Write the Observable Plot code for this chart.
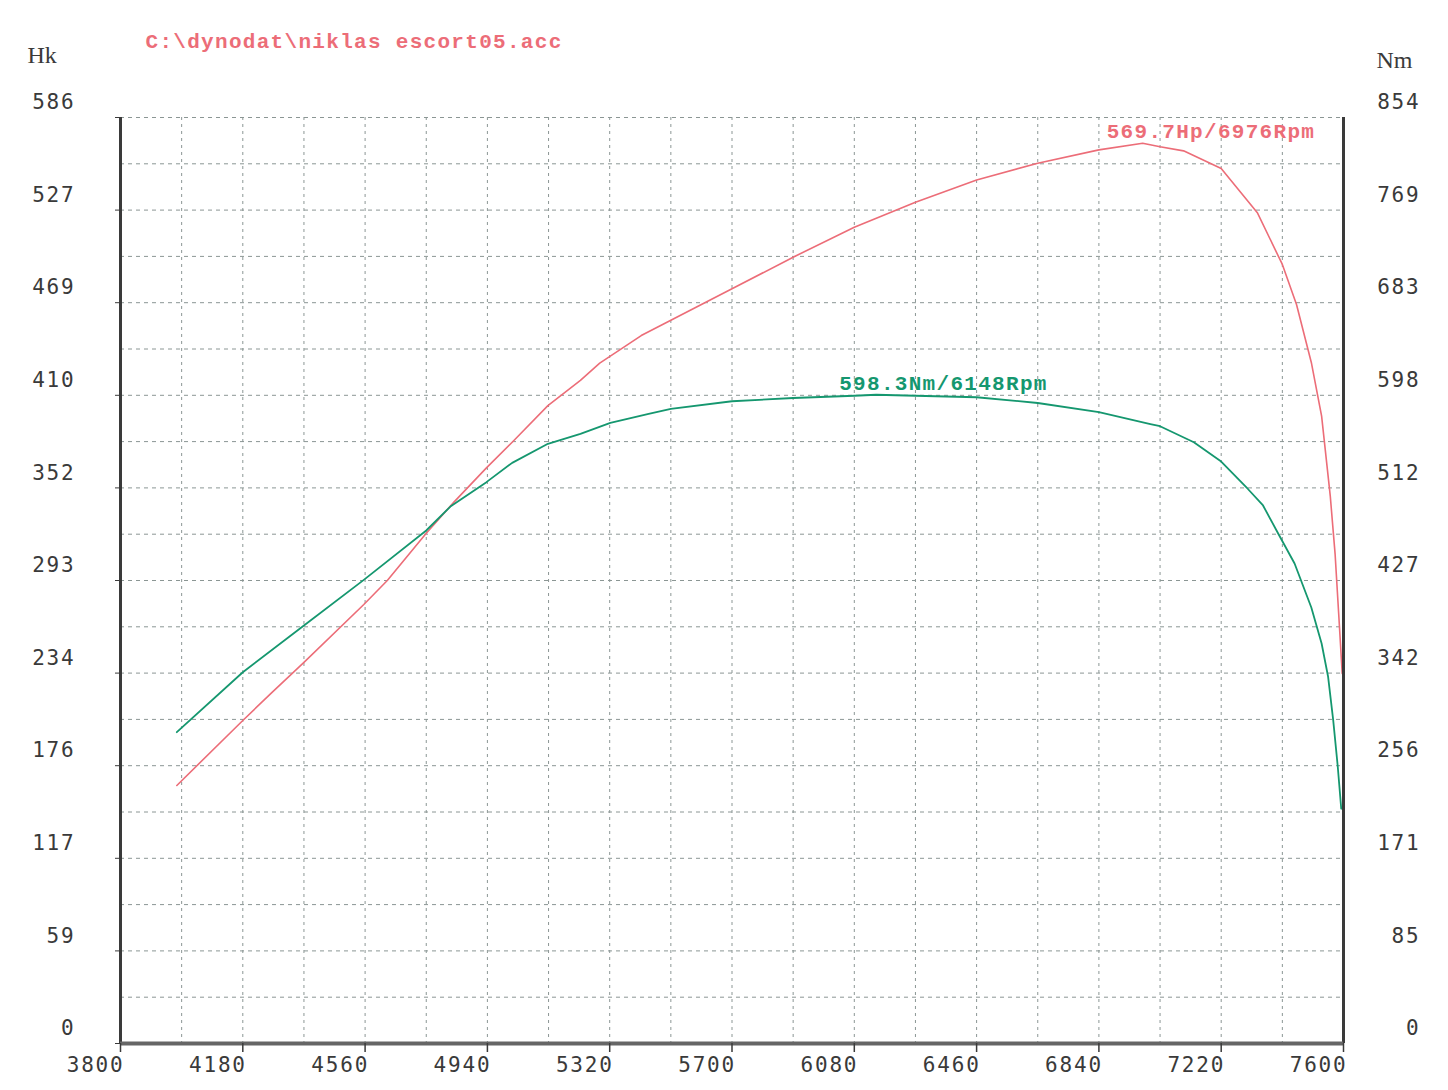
<!DOCTYPE html>
<html><head><meta charset="utf-8">
<script src="https://cdn.jsdelivr.net/npm/d3@7"></script>
<script src="https://cdn.jsdelivr.net/npm/@observablehq/plot@0.6"></script>
<style>
body{margin:0;background:#fff}
g[font-family*="DejaVu Sans Mono"] text{letter-spacing:1.8px}
g[font-family*="Liberation Mono"] text{letter-spacing:1.3px}
</style>
</head><body><div id="chart"></div>
<script>
// ---- data ----
const powerRpm = [3975, 4180, 4266, 4370, 4556, 4629, 4750, 4836, 4937, 5017, 5128, 5229, 5289, 5418, 5510, 5700, 5890, 6080, 6270, 6460, 6650, 6840, 6976, 7030, 7103, 7220, 7333, 7410, 7454, 7500, 7532, 7559, 7574, 7585, 7596];
const powerHp  = [163.3, 204.4, 221.3, 241.2, 277.8, 293.0, 322.9, 342.6, 364.3, 380.5, 403.7, 419.6, 430.6, 448.0, 457.7, 477.6, 497.6, 516.5, 532.3, 546.4, 557.1, 565.5, 569.7, 567.5, 564.9, 553.7, 525.5, 493.0, 467.7, 431.0, 397.0, 346.2, 309.5, 272.1, 234.1];
const torqueRpm = [3975, 4180, 4370, 4556, 4750, 4825, 4937, 5017, 5128, 5229, 5322, 5441, 5510, 5700, 5890, 6080, 6148, 6270, 6460, 6650, 6840, 7000, 7030, 7135, 7220, 7303, 7350, 7397, 7448, 7500, 7532, 7552, 7568, 7582, 7593];
const torqueNm  = [287.1, 342.4, 385.5, 427.6, 473.1, 495.2, 517.7, 535.5, 553.1, 562.3, 572.4, 580.7, 585.3, 592.3, 595.3, 597.4, 598.3, 597.4, 596.0, 590.7, 582.2, 571.3, 569.3, 554.5, 536.7, 511.4, 496.2, 470.3, 442.7, 402.1, 368.9, 338.5, 298.3, 255.9, 216.5];
const rpmTicks = [3800, 4180, 4560, 4940, 5320, 5700, 6080, 6460, 6840, 7220, 7600];
const hkTicks = [0, 59, 117, 176, 234, 293, 352, 410, 469, 527, 586];
const nmTicks = [0, 85, 171, 256, 342, 427, 512, 598, 683, 769, 854];
const titleText = "C:\\dynodat\\niklas escort05.acc";
const leftUnit = "Hk";
const rightUnit = "Nm";
const peakPower = [{rpm: 6976, value: 569.7, label: "569.7Hp/6976Rpm"}];
const peakTorque = [{rpm: 6148, value: 598.3, label: "598.3Nm/6148Rpm"}];

// ---- derived ----
const HK_MAX = 586, NM_MAX = 854, RPM_MIN = 3800, RPM_MAX = 7600;
const nmToHk = v => v * HK_MAX / NM_MAX;
const power = powerRpm.map((r, i) => ({rpm: r, hp: powerHp[i]}));
const torque = torqueRpm.map((r, i) => ({rpm: r, nm: torqueNm[i]}));
const tickPos = hkTicks.map((_, i) => i * HK_MAX / (hkTicks.length - 1));
const gridX = d3.range(0, 21).map(i => RPM_MIN + i * (RPM_MAX - RPM_MIN) / 20).slice(1, -1);
const gridY = d3.range(1, 21).map(i => i * HK_MAX / 20);

const RED = "#ec6d78", GREEN = "#15976f", GRID = "#8b9694", INK = "#3a3a3a";
const monoBold = "'Liberation Mono', 'Courier New', monospace";
const digits = "'DejaVu Sans Mono', monospace";

const chart = Plot.plot({
  width: 1448, height: 1090,
  marginLeft: 120, marginRight: 105, marginTop: 117, marginBottom: 47,
  x: {domain: [RPM_MIN, RPM_MAX], axis: null},
  y: {domain: [0, HK_MAX], axis: null},
  style: {background: "#fff"},
  marks: [
    Plot.ruleX(gridX, {stroke: GRID, strokeWidth: 1, strokeDasharray: "3,4"}),
    Plot.ruleY(gridY, {stroke: GRID, strokeWidth: 1, strokeDasharray: "4,4"}),
    Plot.line(power, {x: "rpm", y: "hp", stroke: RED, strokeWidth: 1.6}),
    Plot.line(torque, {x: "rpm", y: d => nmToHk(d.nm), stroke: GREEN, strokeWidth: 1.8}),
    Plot.ruleX([RPM_MIN], {stroke: INK, strokeWidth: 3}),
    Plot.ruleX([RPM_MAX], {stroke: INK, strokeWidth: 3}),
    Plot.ruleY([0], {stroke: "#666", strokeWidth: 4}),
    Plot.axisX(rpmTicks, {tickSize: 9, tickFormat: () => "", label: null, stroke: INK, strokeWidth: 1.5}),
    Plot.axisY(tickPos, {anchor: "left", tickSize: 5, tickFormat: () => "", label: null, stroke: INK}),
    // tick labels
    Plot.text(tickPos, {y: d => d, frameAnchor: "left", text: (d, i) => String(hkTicks[i]),
      textAnchor: "end", lineAnchor: "middle", dx: -45, dy: -15, fontSize: 21, fontFamily: digits, fill: INK}),
    Plot.text(tickPos, {y: d => d, frameAnchor: "right", text: (d, i) => String(nmTicks[i]),
      textAnchor: "end", lineAnchor: "middle", dx: 77, dy: -15, fontSize: 21, fontFamily: digits, fill: INK}),
    Plot.text(rpmTicks, {x: d => d, frameAnchor: "bottom", text: d => String(d),
      textAnchor: "end", lineAnchor: "middle", dx: 4, dy: 22, fontSize: 21, fontFamily: digits, fill: INK}),
    // unit labels and title
    Plot.text([leftUnit], {frameAnchor: "top-left", text: d => d, textAnchor: "start", lineAnchor: "middle", dx: -93, dy: -62,
      fontSize: 24, fontFamily: "'Liberation Serif', serif", fill: INK}),
    Plot.text([rightUnit], {frameAnchor: "top-right", text: d => d, textAnchor: "start", lineAnchor: "middle", dx: 33, dy: -57,
      fontSize: 24, fontFamily: "'Liberation Serif', serif", fill: INK}),
    Plot.text([titleText], {frameAnchor: "top-left", text: d => d, textAnchor: "start", lineAnchor: "middle", dx: 25, dy: -76,
      fontSize: 21, fontWeight: "bold", fontFamily: monoBold, fill: RED}),
    // peak annotations
    Plot.text(peakPower, {x: "rpm", y: "value", text: "label", textAnchor: "start", lineAnchor: "middle", dx: -36, dy: -12,
      fontSize: 21, fontWeight: "bold", fontFamily: monoBold, fill: RED}),
    Plot.text(peakTorque, {x: "rpm", y: d => nmToHk(d.value), text: "label", textAnchor: "start", lineAnchor: "middle", dx: -37, dy: -11,
      fontSize: 21, fontWeight: "bold", fontFamily: monoBold, fill: GREEN})
  ]
});
document.getElementById("chart").appendChild(chart);
</script>
</body></html>
